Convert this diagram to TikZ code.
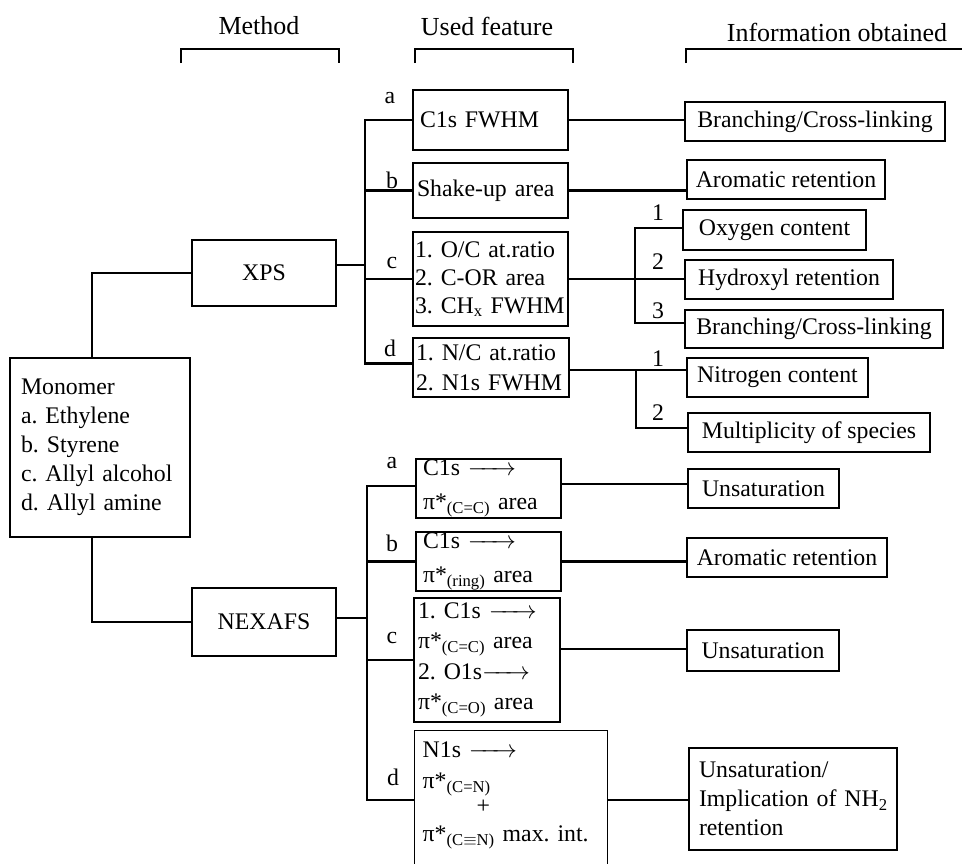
\documentclass[tikz,border=0pt]{standalone}
\usepackage{fontspec}
\setmainfont{Liberation Serif}
\frenchspacing
\newcommand{\myarr}{\makebox[48pt]{\rightarrowfill}}
\newcommand{\pistar}[1]{π*\textsubscript{#1}}
\begin{document}
\frenchspacing
\begin{tikzpicture}[x=1pt,y=-1pt,
  font=\fontsize{23.8}{29}\selectfont,
  box/.style={draw, line width=1.4pt, inner sep=0pt, align=center},
  lbox/.style={draw, line width=1.4pt, inner ysep=0pt, align=left},
  conn/.style={line width=2.1pt},
  lab/.style={inner sep=0pt},
  head/.style={inner sep=0pt, font=\fontsize{26}{30}\selectfont},
  brk/.style={line width=2.4pt}]
\useasboundingbox (0,0) rectangle (962,863);
\clip (0,0) rectangle (962,863);

% headers
\node[head] (hm) at (259,26) {Method};
\node[head] (hu) at (487,26) {Used feature};
\node[head] (hi) at (837,32) {Information obtained};
\draw[brk] (181,63) |- (339,49) -- (339,63);
\draw[brk] (415,63) |- (573,49) -- (573,63);
\draw[brk] (686,63) |- (975,49);

% monomer and methods
\node[lbox, text width=158pt, inner xsep=11pt, minimum height=179pt] (mono) at (100,447.5)
  {\mbox{Monomer}\\\mbox{a. Ethylene}\\\mbox{b. Styrene}\\\mbox{c. Allyl alcohol}\\\mbox{d. Allyl amine}};
\node[box, minimum width=144pt, minimum height=66pt] (xps) at (264,273) {XPS};
\node[box, minimum width=144pt, minimum height=68pt] (nex) at (264,622) {NEXAFS};

% XPS features
\node[lbox, text width=141pt, inner xsep=7pt, minimum height=60pt] (fa) at (490.5,120) {\mbox{C1s FWHM}};
\node[lbox, text width=147pt, inner xsep=4pt, minimum height=55pt] (fb) at (490.5,190.5) {\mbox{Shake-up area}};
\node[lbox, text width=151pt, inner xsep=2pt, minimum height=94pt, font=\fontsize{23.8}{28}\selectfont] (fc) at (490.5,279)
  {\mbox{1. O/C at.ratio}\\\mbox{2. C-OR area}\\\mbox{3. CH\textsubscript{x} FWHM}};
\node[lbox, text width=150pt, inner xsep=3pt, minimum height=59pt, font=\fontsize{23.8}{30}\selectfont] (fd) at (491,367.5)
  {\mbox{1. N/C at.ratio}\\\mbox{2. N1s FWHM}};

% XPS information
\node[box, minimum width=260pt, minimum height=39pt] (ia) at (815,121.5) {Branching/Cross-linking};
\node[box, minimum width=198pt, minimum height=39pt] (ib) at (786,179.5) {Aromatic retention};
\node[box, minimum width=183pt, minimum height=40pt] (oxy) at (774.5,230) {Oxygen content};
\node[box, minimum width=208pt, minimum height=39pt] (hyd) at (789,279.5) {Hydroxyl retention};
\node[box, minimum width=258pt, minimum height=38pt] (br2) at (814,329) {Branching/Cross-linking};
\node[box, minimum width=181pt, minimum height=39pt] (nit) at (777.5,377.5) {Nitrogen content};
\node[box, minimum width=242pt, minimum height=39pt] (mult) at (809,432.5) {Multiplicity of species};

% NEXAFS features
\node[lbox, text width=131pt, inner xsep=7pt, minimum height=59pt, font=\fontsize{23.8}{34}\selectfont] (na) at (488.5,488.5)
  {\mbox{C1s \myarr}\\\mbox{\pistar{(C=C)} area}};
\node[lbox, text width=131pt, inner xsep=7pt, minimum height=59pt, font=\fontsize{23.8}{34}\selectfont] (nb) at (488.5,561.5)
  {\mbox{C1s \myarr}\\\mbox{\pistar{(ring)} area}};
\node[lbox, text width=138pt, inner xsep=4pt, minimum height=124pt, font=\fontsize{23.8}{30.5}\selectfont] (nc) at (487,660)
  {\mbox{1. C1s \myarr}\\\mbox{\pistar{(C=C)} area}\\\mbox{2. O1s\myarr}\\\mbox{\pistar{(C=O)} area}};
\node[lbox, anchor=north west, text width=177pt, inner xsep=8pt, inner ysep=11.5pt] (nd) at (414,730)
  {\mbox{N1s \myarr}\\[2pt]\mbox{\pistar{(C=N)}}\\[-4pt]\hspace*{54pt}+\\[-1pt]\mbox{\pistar{(C$\equiv$N)} max. int.}\rule[-16pt]{0pt}{16pt}};

% NEXAFS information
\node[box, minimum width=151pt, minimum height=39pt] (ua) at (763.5,488.5) {Unsaturation};
\node[box, minimum width=200pt, minimum height=39pt] (ub) at (787,557.5) {Aromatic retention};
\node[box, minimum width=152pt, minimum height=41pt] (uc) at (763,650.5) {Unsaturation};
\node[lbox, text width=188pt, inner xsep=10pt, minimum height=102pt] (ud) at (793,799)
  {\mbox{Unsaturation/}\\\mbox{Implication of NH\textsubscript{2}}\\\mbox{retention}};

% connectors: monomer to methods
\draw[conn] ([xshift=-8pt]mono.north) |- (xps.west);
\draw[conn] ([xshift=-8pt]mono.south) |- (nex.west);

% XPS fork
\coordinate (xv) at (365,273);
\draw[conn] ([yshift=8pt]xps.east) -- ([yshift=8pt]xps.east -| xv);
\draw[conn] (fa.west) -| (xv) |- ([yshift=4pt]fd.west);
\draw[conn] (fb.west) -- (fb.west -| xv);
\draw[conn] (fc.west) -- (fc.west -| xv);

% XPS features to information
\draw[conn] (fa.east) -- (fa.east -| ia.west);
\draw[conn] (fb.east) -- (fb.east -| ib.west);
\draw[conn] (fc.east) -- (fc.east -| hyd.west);
\coordinate (cv) at (635,279);
\draw[conn] ([yshift=2pt]oxy.west) -| (cv) |- ([yshift=6pt]br2.west);
\draw[conn] ([yshift=-2.5pt]fd.east) -- ([yshift=-2.5pt]fd.east -| nit.west);
\coordinate (dv) at (636,370);
\draw[conn] (dv) |- ([yshift=4.5pt]mult.west);

% NEXAFS fork
\coordinate (nv) at (367,622);
\draw[conn] ([yshift=4pt]nex.east) -- ([yshift=4pt]nex.east -| nv);
\draw[conn] ([yshift=2.5pt]na.west) -| (nv) |- (nd.west);
\draw[conn] (nb.west) -- (nb.west -| nv);
\draw[conn] (nc.west) -- (nc.west -| nv);

% NEXAFS features to information
\draw[conn] ([yshift=4.5pt]na.east) -- ([yshift=4.5pt]na.east -| ua.west);
\draw[conn] (nb.east) -- (nb.east -| ub.west);
\draw[conn] ([yshift=11pt]nc.east) -- ([yshift=11pt]nc.east -| uc.west);
\draw[conn] (nd.east) -- (nd.east -| ud.west);

% branch labels
\node[lab] (xa) at (390,98) {a};
\node[lab] (xb) at (392,180) {b};
\node[lab] (xc) at (392,263) {c};
\node[lab] (xd) at (390,348) {d};
\node[lab] (c1) at (658,213) {1};
\node[lab] (c2) at (658,262) {2};
\node[lab] (c3) at (658,311) {3};
\node[lab] (d1) at (658,359) {1};
\node[lab] (d2) at (658,413) {2};
\node[lab] (na_l) at (392,463) {a};
\node[lab] (nb_l) at (392,543) {b};
\node[lab] (nc_l) at (392,638) {c};
\node[lab] (nd_l) at (393,777) {d};
\end{tikzpicture}
\end{document}
